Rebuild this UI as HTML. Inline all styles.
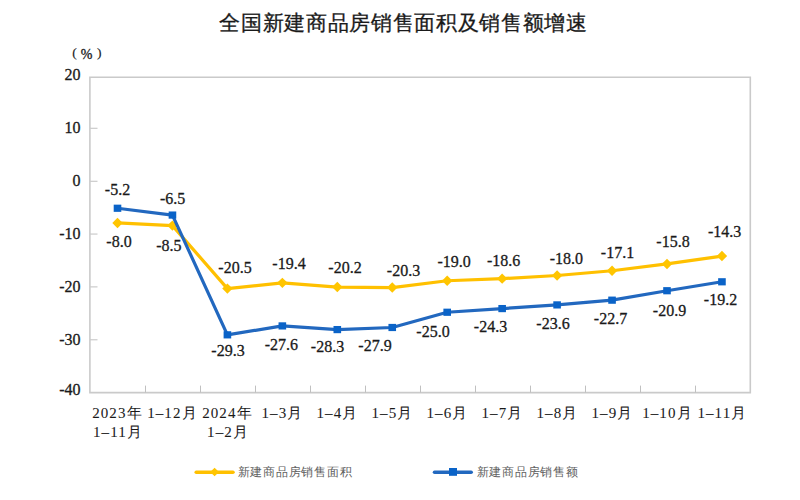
<!DOCTYPE html>
<html><head><meta charset="utf-8"><style>
html,body{margin:0;padding:0;background:#fff;width:800px;height:500px;overflow:hidden}
svg{display:block}
.n{font-family:"Liberation Serif",serif;font-size:16px;fill:#1a1a1a;stroke:#1a1a1a;stroke-width:0.3px}
.xl{font-size:15px;stroke-width:0.05px;letter-spacing:1.1px}
.t{font-family:"Liberation Sans",sans-serif;font-size:21.2px;fill:#1a1a1a;stroke:#1a1a1a;stroke-width:0.3px;letter-spacing:0.68px}
.lg{font-family:"Liberation Serif",serif;font-size:12px;fill:#606060;letter-spacing:0.76px}
</style></head><body>
<svg width="800" height="500" viewBox="0 0 800 500">
<text class="t" x="403.5" y="29.6" text-anchor="middle">全国新建商品房销售面积及销售额增速</text>
<g class="n" style="font-size:14px"><text x="72.2" y="57" style="font-size:13.5px;stroke-width:0.15px">(</text><text x="86.5" y="59.2" text-anchor="middle">%</text><text x="97" y="57" style="font-size:13.5px;stroke-width:0.15px">)</text></g>
<path d="M89.9 77.2H750.3V392.6H89.9Z" fill="none" stroke="#cacaca" stroke-width="1.6"/><path d="M90.30000000000001 128.25h7.2" stroke="#c0c0c0" stroke-width="1"/><path d="M90.30000000000001 181.25h7.2" stroke="#c0c0c0" stroke-width="1"/><path d="M90.30000000000001 234.06h7.2" stroke="#c0c0c0" stroke-width="1"/><path d="M90.30000000000001 286.9h7.2" stroke="#c0c0c0" stroke-width="1"/><path d="M90.30000000000001 339.8h7.2" stroke="#c0c0c0" stroke-width="1"/><path d="M145.5 392.6v-7" stroke="#c0c0c0" stroke-width="1"/><path d="M200.5 392.6v-7" stroke="#c0c0c0" stroke-width="1"/><path d="M255.5 392.6v-7" stroke="#c0c0c0" stroke-width="1"/><path d="M310.5 392.6v-7" stroke="#c0c0c0" stroke-width="1"/><path d="M365.5 392.6v-7" stroke="#c0c0c0" stroke-width="1"/><path d="M420.5 392.6v-7" stroke="#c0c0c0" stroke-width="1"/><path d="M475.5 392.6v-7" stroke="#c0c0c0" stroke-width="1"/><path d="M530.5 392.6v-7" stroke="#c0c0c0" stroke-width="1"/><path d="M585.5 392.6v-7" stroke="#c0c0c0" stroke-width="1"/><path d="M640.5 392.6v-7" stroke="#c0c0c0" stroke-width="1"/><path d="M695.5 392.6v-7" stroke="#c0c0c0" stroke-width="1"/><polyline points="117.5,222.95 172.45,225.58 227.4,288.62 282.35,282.84 337.3,287.04 392.25,287.57 447.2,280.74 502.15,278.64 557.1,275.48 612.05,270.76 667.0,263.93 721.95,256.05" fill="none" stroke="#FFC000" stroke-width="3.2" stroke-linejoin="round"/><path d="M112.3 222.95L117.5 217.75L122.7 222.95L117.5 228.15Z" fill="#FFC500"/><path d="M167.25 225.58L172.45 220.38L177.64999999999998 225.58L172.45 230.78Z" fill="#FFC500"/><path d="M222.20000000000002 288.62L227.4 283.42L232.6 288.62L227.4 293.82Z" fill="#FFC500"/><path d="M277.15000000000003 282.84L282.35 277.64L287.55 282.84L282.35 288.04Z" fill="#FFC500"/><path d="M332.1 287.04L337.3 281.84L342.5 287.04L337.3 292.24Z" fill="#FFC500"/><path d="M387.05 287.57L392.25 282.37L397.45 287.57L392.25 292.77Z" fill="#FFC500"/><path d="M442.0 280.74L447.2 275.54L452.4 280.74L447.2 285.94Z" fill="#FFC500"/><path d="M496.95 278.64L502.15 273.44L507.34999999999997 278.64L502.15 283.84Z" fill="#FFC500"/><path d="M551.9 275.48L557.1 270.28L562.3000000000001 275.48L557.1 280.68Z" fill="#FFC500"/><path d="M606.8499999999999 270.76L612.05 265.56L617.25 270.76L612.05 275.96Z" fill="#FFC500"/><path d="M661.8 263.93L667.0 258.73L672.2 263.93L667.0 269.13Z" fill="#FFC500"/><path d="M716.75 256.05L721.95 250.85L727.1500000000001 256.05L721.95 261.25Z" fill="#FFC500"/><polyline points="117.5,208.25 172.45,215.07 227.4,334.84 282.35,325.91 337.3,329.59 392.25,327.49 447.2,312.25 502.15,308.58 557.1,304.90 612.05,300.17 667.0,290.72 721.95,281.79" fill="none" stroke="#2268BF" stroke-width="3.2" stroke-linejoin="round"/><rect x="113.7" y="204.65" width="7.6" height="7.2" fill="#0A63C8"/><rect x="168.64999999999998" y="211.47" width="7.6" height="7.2" fill="#0A63C8"/><rect x="223.6" y="331.24" width="7.6" height="7.2" fill="#0A63C8"/><rect x="278.55" y="322.31" width="7.6" height="7.2" fill="#0A63C8"/><rect x="333.5" y="325.99" width="7.6" height="7.2" fill="#0A63C8"/><rect x="388.45" y="323.89" width="7.6" height="7.2" fill="#0A63C8"/><rect x="443.4" y="308.65" width="7.6" height="7.2" fill="#0A63C8"/><rect x="498.34999999999997" y="304.98" width="7.6" height="7.2" fill="#0A63C8"/><rect x="553.3000000000001" y="301.30" width="7.6" height="7.2" fill="#0A63C8"/><rect x="608.25" y="296.57" width="7.6" height="7.2" fill="#0A63C8"/><rect x="663.2" y="287.12" width="7.6" height="7.2" fill="#0A63C8"/><rect x="718.1500000000001" y="278.19" width="7.6" height="7.2" fill="#0A63C8"/>
<g class="n"><text x="80.5" y="79.5" text-anchor="end">20</text><text x="80.5" y="132.7" text-anchor="end">10</text><text x="80.5" y="185.5" text-anchor="end">0</text><text x="80.5" y="239.0" text-anchor="end">-10</text><text x="80.5" y="292.0" text-anchor="end">-20</text><text x="80.5" y="345.0" text-anchor="end">-30</text><text x="80.5" y="395.2" text-anchor="end">-40</text></g>
<g class="n"><text x="119.0" y="247.4" text-anchor="middle">-8.0</text><text x="168.8" y="251.1" text-anchor="middle">-8.5</text><text x="235.0" y="272.8" text-anchor="middle">-20.5</text><text x="289.0" y="268.5" text-anchor="middle">-19.4</text><text x="345.0" y="272.7" text-anchor="middle">-20.2</text><text x="403.5" y="275.8" text-anchor="middle">-20.3</text><text x="454.2" y="267.0" text-anchor="middle">-19.0</text><text x="503.7" y="265.9" text-anchor="middle">-18.6</text><text x="566.4" y="263.8" text-anchor="middle">-18.0</text><text x="617.5" y="258.0" text-anchor="middle">-17.1</text><text x="673.0" y="246.9" text-anchor="middle">-15.8</text><text x="724.6" y="237.3" text-anchor="middle">-14.3</text><text x="117.5" y="195.2" text-anchor="middle">-5.2</text><text x="172.6" y="203.7" text-anchor="middle">-6.5</text><text x="228.0" y="356.1" text-anchor="middle">-29.3</text><text x="281.3" y="349.5" text-anchor="middle">-27.6</text><text x="327.5" y="351.8" text-anchor="middle">-28.3</text><text x="375.0" y="350.7" text-anchor="middle">-27.9</text><text x="433.0" y="336.5" text-anchor="middle">-25.0</text><text x="490.5" y="331.9" text-anchor="middle">-24.3</text><text x="553.0" y="328.6" text-anchor="middle">-23.6</text><text x="610.5" y="323.5" text-anchor="middle">-22.7</text><text x="669.5" y="315.5" text-anchor="middle">-20.9</text><text x="720.5" y="305.4" text-anchor="middle">-19.2</text></g>
<g class="n xl"><text x="117.4" y="418" text-anchor="middle">2023年</text><text x="172.4" y="418" text-anchor="middle">1–12月</text><text x="227.4" y="418" text-anchor="middle">2024年</text><text x="282.4" y="418" text-anchor="middle">1–3月</text><text x="337.4" y="418" text-anchor="middle">1–4月</text><text x="392.4" y="418" text-anchor="middle">1–5月</text><text x="447.4" y="418" text-anchor="middle">1–6月</text><text x="502.4" y="418" text-anchor="middle">1–7月</text><text x="557.4" y="418" text-anchor="middle">1–8月</text><text x="612.4" y="418" text-anchor="middle">1–9月</text><text x="667.4" y="418" text-anchor="middle">1–10月</text><text x="722.4" y="418" text-anchor="middle">1–11月</text><text x="118" y="436.5" text-anchor="middle">1–11月</text><text x="228" y="436.5" text-anchor="middle">1–2月</text></g>
<path d="M196.2 472.2H233" stroke="#FFC000" stroke-width="3.5" stroke-linecap="round"/>
<path d="M210.2 472.1L214.6 467.8L219 472.1L214.6 476.3Z" fill="#FFC500"/>
<text class="lg" x="237.5" y="476">新建商品房销售面积</text>
<path d="M434.5 472.3H471.2" stroke="#2268BF" stroke-width="3.5" stroke-linecap="round"/>
<rect x="449" y="468" width="8" height="7.8" fill="#0A63C8"/>
<text class="lg" x="476.7" y="476">新建商品房销售额</text>
</svg>
</body></html>
